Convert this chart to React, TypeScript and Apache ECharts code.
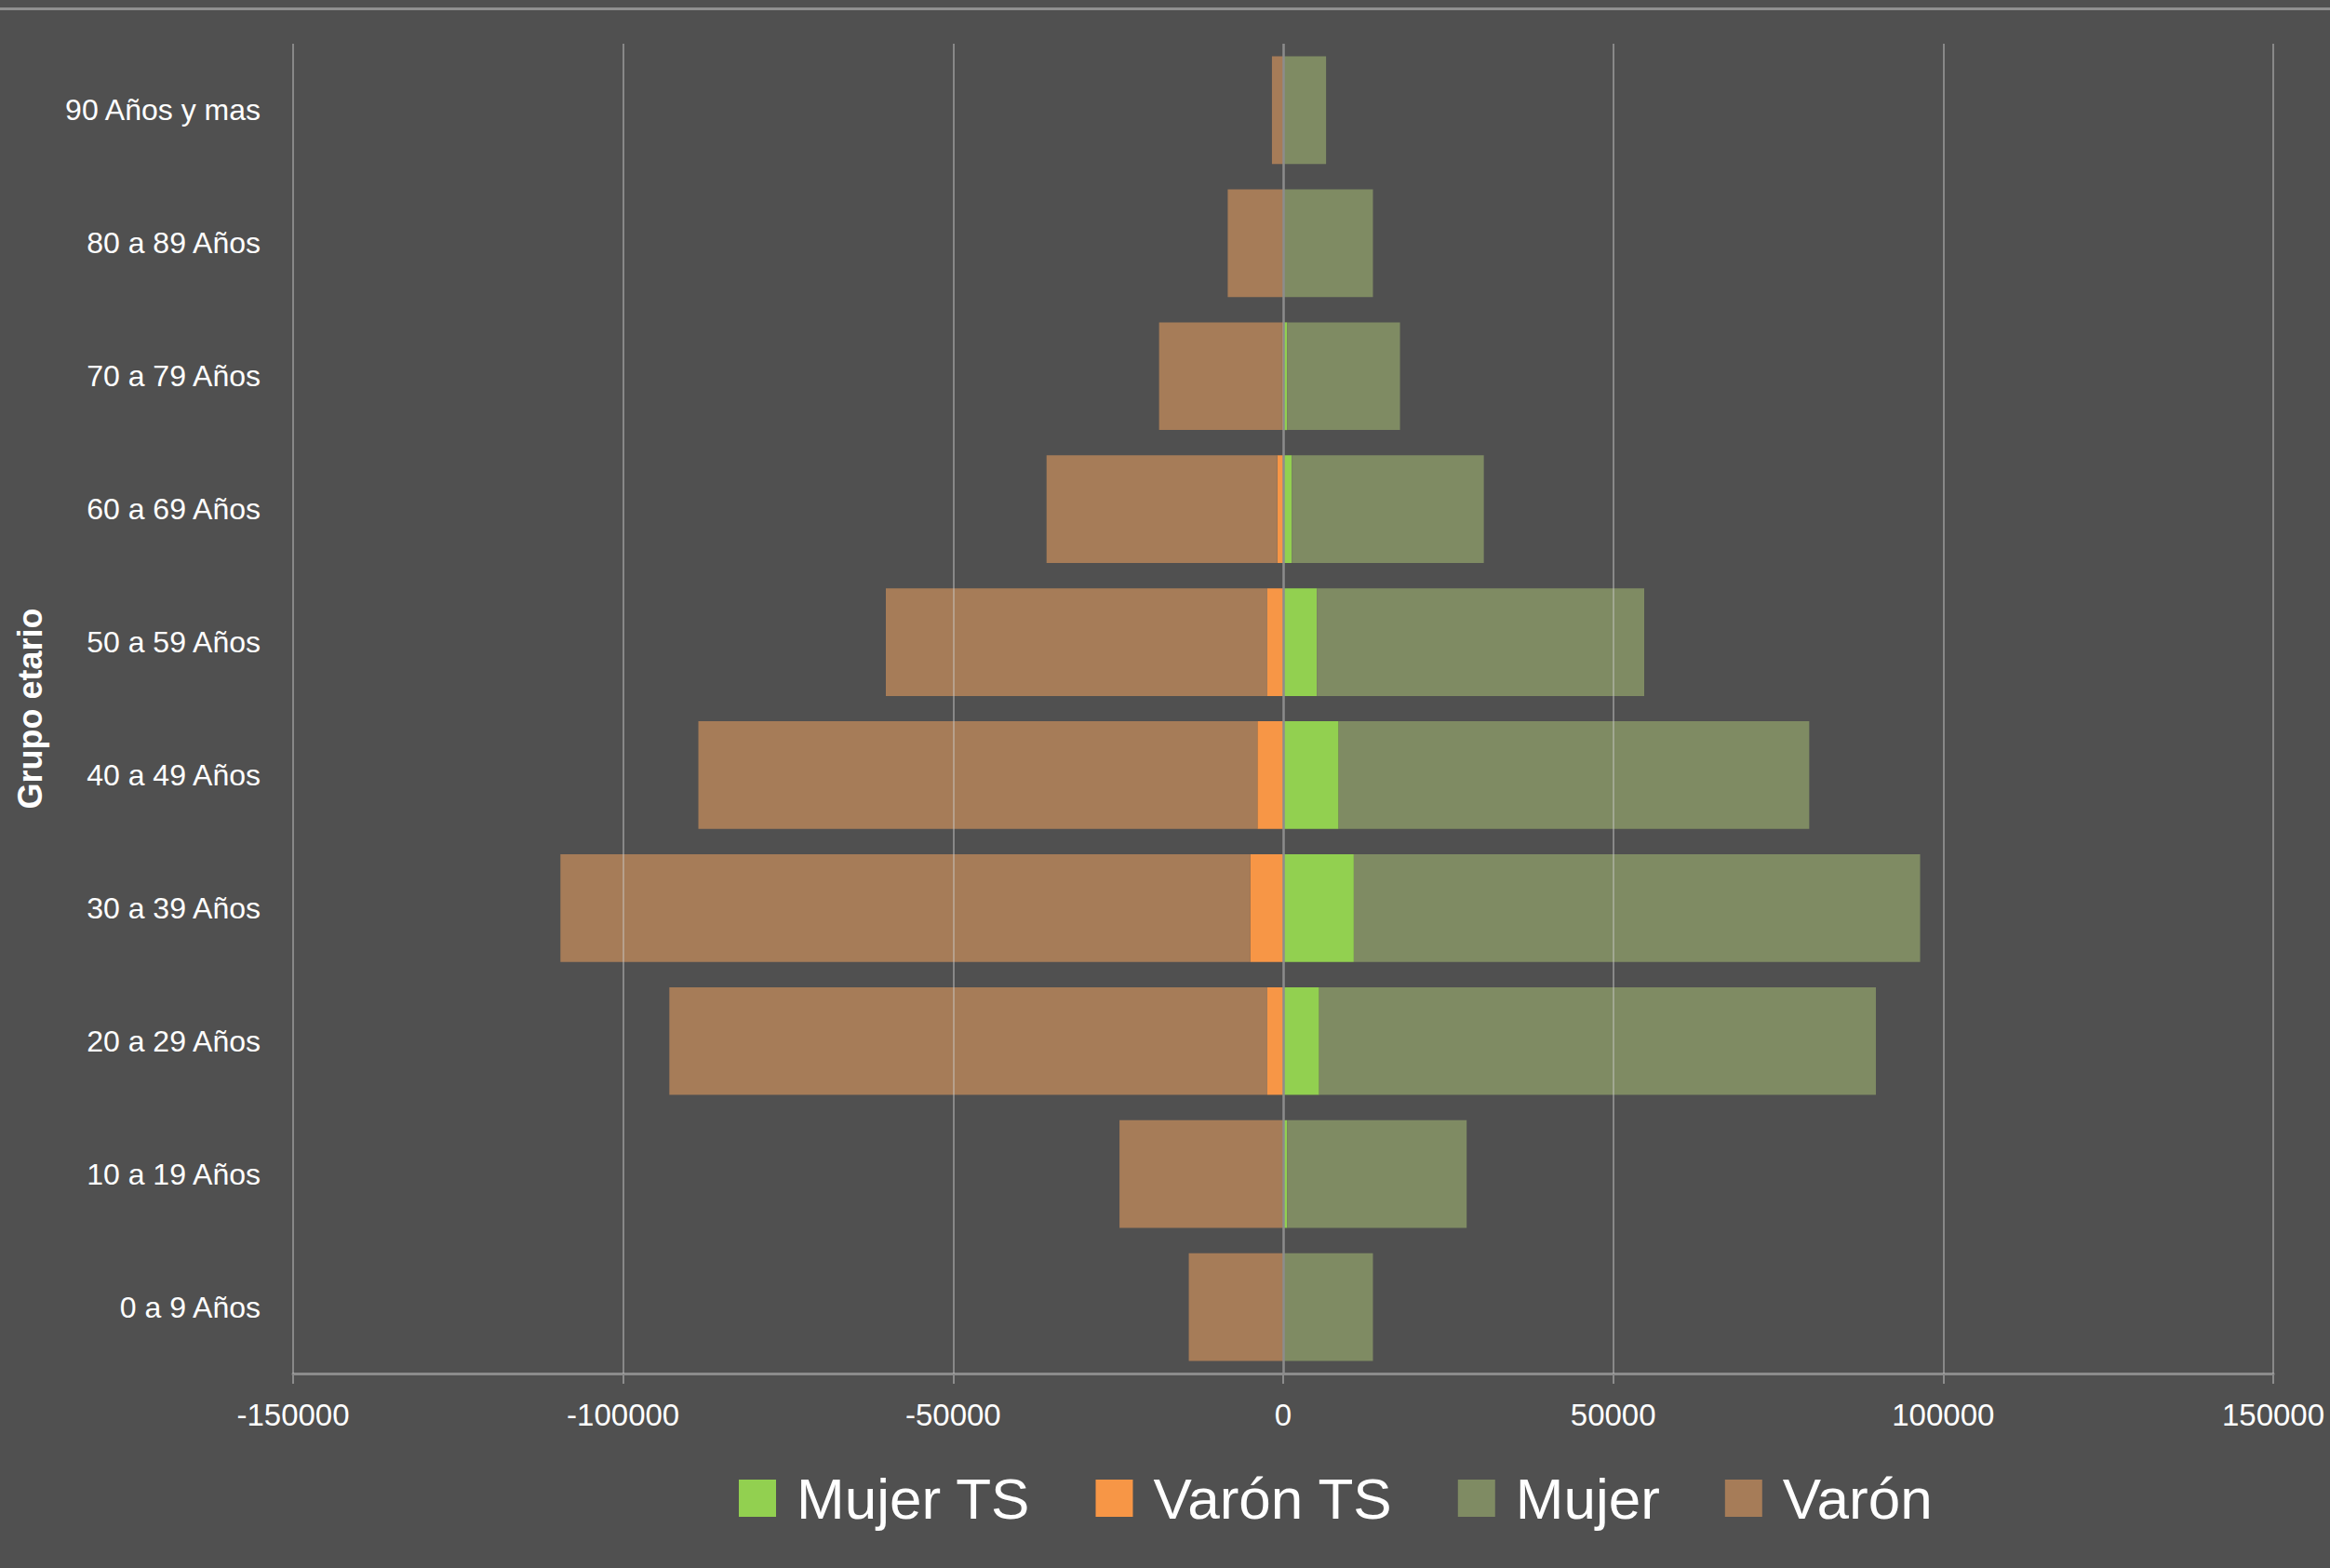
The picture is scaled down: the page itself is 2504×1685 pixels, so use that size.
import React, { useEffect, useRef } from "react";
import * as echarts from "echarts";

// Categories (bottom to top)
const categories = [
  "0 a 9 Años",
  "10 a 19 Años",
  "20 a 29 Años",
  "30 a 39 Años",
  "40 a 49 Años",
  "50 a 59 Años",
  "60 a 69 Años",
  "70 a 79 Años",
  "80 a 89 Años",
  "90 Años y mas",
];

// Stacked values (TS part + remainder)
const mujerTS = [0, 600, 5450, 10700, 8400, 5100, 1300, 600, 0, 0];
const varonTS = [0, 0, -2400, -5000, -3900, -2400, -900, -150, 0, 0];
const mujer = [13600, 27200, 84350, 85800, 71300, 49600, 29100, 17100, 13600, 6500];
const varon = [-14300, -24800, -90600, -104500, -84700, -57800, -34950, -18650, -8400, -1700];

const xTicks = [-150000, -100000, -50000, 0, 50000, 100000, 150000];

const FONT = "'Liberation Sans', Arial, sans-serif";

export default function App() {
  const ref = useRef<HTMLDivElement>(null);

  useEffect(() => {
    document.body.style.margin = "0";
    if (!ref.current) return;
    const chart = echarts.init(ref.current, null, { renderer: "svg" });

    const barCommon = {
      type: "bar" as const,
      stack: "total",
      barCategoryGap: "19%",
    };

    chart.setOption({
      animation: false,
      backgroundColor: "#505050",
      textStyle: { fontFamily: FONT },
      graphic: [
        {
          type: "line",
          shape: { x1: 0, y1: 9.5, x2: 2504, y2: 9.5 },
          style: { stroke: "#8f8f8f", lineWidth: 3 },
          silent: true,
        },
      ],
      grid: { left: 315, right: 61, top: 47, bottom: 209 },
      legend: {
        data: ["Mujer TS", "Varón TS", "Mujer", "Varón"],
        left: 789,
        top: 1574,
        icon: "rect",
        itemWidth: 40,
        itemHeight: 40,
        itemGap: 70,
        textStyle: {
          color: "#ffffff",
          fontSize: 62,
          lineHeight: 62,
          fontFamily: FONT,
          padding: [0, 0, 0, 17],
        },
      },
      xAxis: {
        type: "value",
        min: -150000,
        max: 150000,
        interval: 50000,
        axisLine: { show: true, lineStyle: { color: "#8c8c8c", width: 3 } },
        axisTick: { show: true, length: 11, lineStyle: { color: "#8c8c8c", width: 2 } },
        splitLine: { show: false },
        axisLabel: {
          color: "#ffffff",
          fontSize: 33,
          margin: 28,
          fontFamily: FONT,
          formatter: (v: number) => String(v),
        },
      },
      yAxis: {
        type: "category",
        data: categories,
        axisLine: { show: false },
        axisTick: { show: false },
        axisLabel: {
          color: "#ffffff",
          fontSize: 32,
          margin: 35,
          fontFamily: FONT,
        },
        name: "Grupo etario",
        nameLocation: "middle",
        nameRotate: 90,
        nameGap: 265,
        nameTextStyle: {
          color: "#ffffff",
          fontSize: 36,
          fontWeight: "bold",
          fontFamily: FONT,
        },
      },
      series: [
        { ...barCommon, name: "Mujer TS", data: mujerTS, itemStyle: { color: "#92D050" } },
        { ...barCommon, name: "Varón TS", data: varonTS, itemStyle: { color: "#F79646" } },
        { ...barCommon, name: "Mujer", data: mujer, itemStyle: { color: "#7F8B63" } },
        {
          ...barCommon,
          name: "Varón",
          data: varon,
          itemStyle: { color: "#A67C58" },
          markLine: {
            silent: true,
            symbol: ["none", "none"],
            label: { show: false },
            data: xTicks.map((v) => ({
              xAxis: v,
              lineStyle:
                v === 0
                  ? { color: "#8c8c8c", width: 2.5, type: "solid", opacity: 1 }
                  : { color: "rgba(205,205,205,0.45)", width: 2, type: "solid", opacity: 1 },
            })),
          },
        },
      ],
    });

    return () => chart.dispose();
  }, []);

  return <div ref={ref} style={{ width: 2504, height: 1685 }} />;
}
